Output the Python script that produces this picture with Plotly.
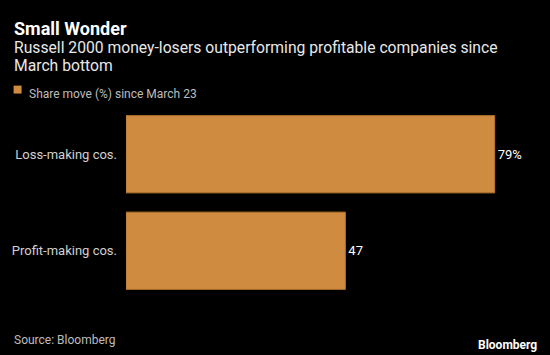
import plotly.graph_objects as go

categories = ["Loss-making cos.", "Profit-making cos."]
values = [79, 47]
value_labels = ["79%", "47"]
series_name = "Share move (%) since March 23"

BAR = "#cf8b3f"
FONT = "Roboto"

fig = go.Figure()
fig.add_trace(go.Bar(
    y=categories, x=values, orientation="h",
    marker=dict(color=BAR, line=dict(color="#b8762f", width=1)),
    text=value_labels, textposition="outside", cliponaxis=False,
    textfont=dict(color="#ffffff", size=13, family=FONT),
    name=series_name, showlegend=False, hoverinfo="skip",
))

W = 550
left = 126
px_per_unit = 369 / 79
xmax = 90
plot_w = xmax * px_per_unit
right = W - left - plot_w
top, bottom = 105.5, 55.5
plot_h = 355 - top - bottom

fig.update_layout(
    width=550, height=355,
    paper_bgcolor="#000000", plot_bgcolor="#000000",
    margin=dict(l=left, r=right, t=top, b=bottom),
    bargap=0.2,
    font=dict(family=FONT, color="#dddddd"),
    xaxis=dict(range=[0, xmax], showgrid=False, zeroline=False,
               showticklabels=False, showline=False, fixedrange=True),
    yaxis=dict(categoryorder="array", categoryarray=categories,
               autorange="reversed", showgrid=False, zeroline=False,
               showline=False, ticks="", ticklabelstandoff=8, fixedrange=True,
               tickfont=dict(size=13, color="#d0d0d0", family=FONT)),
)

# (text, x_px, y_center_px, size, color, anchor)
annotations = [
    ("<b>Small Wonder</b>", 12, 28, 18, "#ffffff", "left"),
    ("Russell 2000 money-losers outperforming profitable companies since",
     12, 47, 15.7, "#e8e8e8", "left"),
    ("March bottom", 12, 65, 15.7, "#e8e8e8", "left"),
    (series_name, 27, 93, 12, "#bdbdbd", "left"),
    ("Source: Bloomberg", 12, 341, 12, "#bdbdbd", "left"),
    ("<b>Bloomberg</b>", 539, 346, 12, "#ffffff", "right"),
]
for text, xp, yp, size, color, anchor in annotations:
    fig.add_annotation(xref="paper", yref="paper", showarrow=False,
                       xanchor=anchor, yanchor="middle", align="left",
                       x=(xp - left) / plot_w, y=(355 - yp - bottom) / plot_h,
                       text=text, font=dict(size=size, color=color, family=FONT))

# legend swatch
fig.add_shape(type="rect", xref="paper", yref="paper",
              x0=(13.5 - left) / plot_w, x1=(21.5 - left) / plot_w,
              y0=(355 - 93 - bottom) / plot_h, y1=(355 - 85 - bottom) / plot_h,
              fillcolor=BAR, line=dict(width=0))

fig.write_html("out.html", config={"displayModeBar": False})
with open("out.html") as f:
    html = f.read()
html = html.replace("<body>", '<body style="margin:0;background:#000">', 1)
with open("out.html", "w") as f:
    f.write(html)
